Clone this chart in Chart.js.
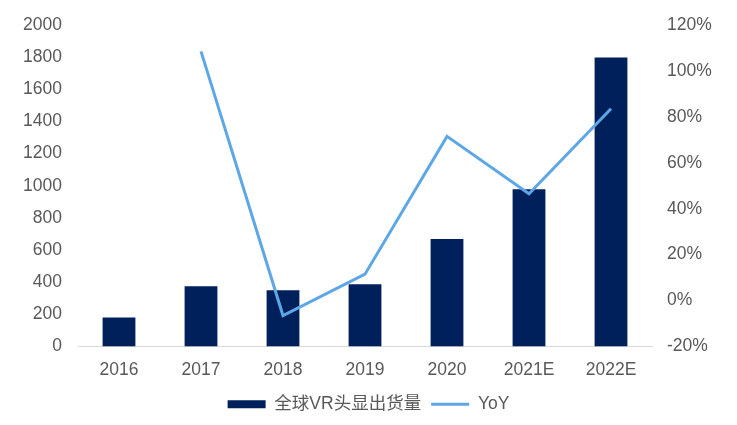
<!DOCTYPE html>
<html>
<head>
<meta charset="utf-8">
<script src="https://cdn.jsdelivr.net/npm/chart.js@4"></script>
<style>
  body{margin:0;background:#fff;}
  #chart{display:block;}
</style>
</head>
<body>
<canvas id="chart" width="737" height="425"></canvas>
<script>
const years = ['2016','2017','2018','2019','2020','2021E','2022E'];
const shipments = [180, 375, 350, 388, 668, 978, 1798];
const yoy = [null, 108.5, -6.5, 11.5, 71.5, 46.5, 83.5];
const leftTicks = {min: 0, max: 2000, step: 200};
const rightTicks = {min: -20, max: 120, step: 20};

const barColor = '#00205c';
const lineColor = '#5ea7e6';
const textColor = '#595959';
const fontFamily = '"Liberation Sans", Arial, "Noto Sans CJK SC", sans-serif';
const tickFont = {size: 17.5, family: fontFamily};

const ctx = document.getElementById('chart').getContext('2d');
new Chart(ctx, {
  data: {
    labels: years,
    datasets: [
      {
        type: 'bar',
        label: '全球VR头显出货量',
        data: shipments,
        backgroundColor: barColor,
        borderWidth: 0,
        yAxisID: 'y',
        barPercentage: 0.8,
        categoryPercentage: 0.5,
        order: 1
      },
      {
        type: 'line',
        label: 'YoY',
        data: yoy,
        borderColor: lineColor,
        backgroundColor: lineColor,
        borderWidth: 3,
        pointRadius: 0,
        tension: 0,
        yAxisID: 'y1',
        order: 0
      }
    ]
  },
  options: {
    responsive: false,
    animation: false,
    layout: {padding: {top: 25, left: 0, right: 0, bottom: 2}},
    plugins: {
      tooltip: {enabled: false},
      legend: {
        position: 'bottom',
        labels: {
          color: textColor,
          font: {size: 17.5, family: fontFamily},
          usePointStyle: true,
          pointStyleWidth: 38,
          boxHeight: 8,
          padding: 10,
          generateLabels: chart => chart.data.datasets.map((ds, i) => ({
            text: ds.label,
            fillStyle: ds.type === 'line' ? lineColor : barColor,
            strokeStyle: ds.type === 'line' ? lineColor : barColor,
            lineWidth: ds.type === 'line' ? 3 : 0,
            pointStyle: ds.type === 'line' ? 'line' : 'rect',
            fontColor: textColor,
            hidden: false,
            datasetIndex: i
          }))
        }
      }
    },
    scales: {
      x: {
        grid: {display: false},
        border: {color: '#d9d9d9', width: 1},
        ticks: {color: textColor, font: tickFont, padding: 5}
      },
      y: {
        position: 'left',
        min: leftTicks.min,
        max: leftTicks.max,
        grid: {display: false},
        border: {display: false},
        ticks: {stepSize: leftTicks.step, color: textColor, font: tickFont, padding: 8,
          callback: v => String(v)},
        afterFit: s => { s.width = 78; }
      },
      y1: {
        position: 'right',
        min: rightTicks.min,
        max: rightTicks.max,
        grid: {display: false},
        border: {display: false},
        ticks: {stepSize: rightTicks.step, color: textColor, font: tickFont, padding: 7,
          callback: v => v + '%'},
        afterFit: s => { s.width = 85; }
      }
    }
  }
});
</script>
</body>
</html>
